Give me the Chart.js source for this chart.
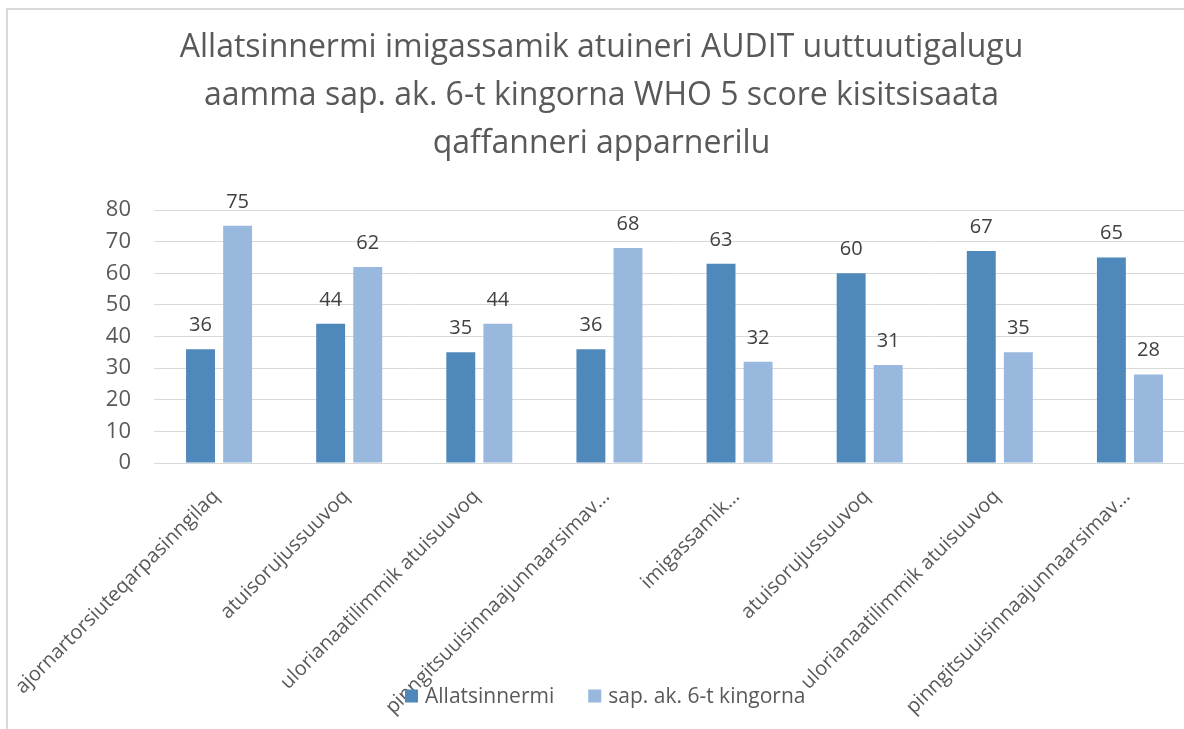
<!DOCTYPE html>
<html>
<head>
<meta charset="utf-8">
<script src="https://cdn.jsdelivr.net/npm/chart.js@4.4.1/dist/chart.umd.min.js"></script>
<style>
    html, body {
        margin: 0;
        padding: 0;
        background: #fff;
        overflow: hidden;
    }
    #frame {
        position: absolute;
        left: 6px;
        top: 8px;
        width: 1220px;
        height: 740px;
        border: 2px solid #d9d9d9;
        overflow: hidden;
    }
</style>
</head>
<body>
<div id="frame">
    <canvas id="auditChart" width="1210" height="719"></canvas>
</div>
<script>
const categories = [
    'ajornartorsiuteqarpasinngilaq',
    'atuisorujussuuvoq',
    'ulorianaatilimmik atuisuuvoq',
    'pinngitsuuisinnaajunnaarsimav…',
    'imigassamik…',
    'atuisorujussuuvoq',
    'ulorianaatilimmik atuisuuvoq',
    'pinngitsuuisinnaajunnaarsimav…'
];
const seriesNames = ['Allatsinnermi', 'sap. ak. 6-t kingorna'];
const beforeValues = [36, 44, 35, 36, 63, 60, 67, 65];
const afterValues = [75, 62, 44, 68, 32, 31, 35, 28];
const titleLines = [
    'Allatsinnermi imigassamik atuineri AUDIT uuttuutigalugu',
    'aamma sap. ak. 6-t kingorna WHO 5 score kisitsisaata',
    'qaffanneri apparnerilu'
];

const FONT = "'Open Sans', 'Noto Sans', sans-serif";
const TEXT_GREY = '#595959';

// value labels sitting above each bar
const barValueLabels = {
    id: 'barValueLabels',
    afterDatasetsDraw(chart) {
        const ctx = chart.ctx;
        ctx.save();
        ctx.font = '20px ' + FONT;
        ctx.fillStyle = '#404040';
        ctx.textAlign = 'center';
        ctx.textBaseline = 'alphabetic';
        chart.data.datasets.forEach((ds, i) => {
            chart.getDatasetMeta(i).data.forEach((bar, j) => {
                ctx.fillText(String(ds.data[j]), bar.x, bar.y - 18);
            });
        });
        ctx.restore();
    }
};

// legend drawn over the bottom of the category labels
const bottomLegend = {
    id: 'bottomLegend',
    afterDraw(chart, args, opts) {
        const ctx = chart.ctx;
        ctx.save();
        ctx.font = '21px ' + FONT;
        ctx.textBaseline = 'middle';
        const box = 13;
        const gap = 7;
        const spacing = 34;
        let x = opts.left;
        const y = opts.y;
        chart.data.datasets.forEach((ds) => {
            ctx.fillStyle = ds.backgroundColor;
            ctx.fillRect(x, y - box / 2, box, box);
            ctx.fillStyle = TEXT_GREY;
            ctx.textAlign = 'left';
            ctx.fillText(ds.label, x + box + gap, y + 1);
            x += box + gap + ctx.measureText(ds.label).width + spacing;
        });
        ctx.restore();
    }
};

const ctx = document.getElementById('auditChart').getContext('2d');
new Chart(ctx, {
    type: 'bar',
    data: {
        labels: categories,
        datasets: [{
            label: seriesNames[0],
            data: beforeValues,
            backgroundColor: '#4f88bb',
            categoryPercentage: 0.57,
            barPercentage: 0.78
        }, {
            label: seriesNames[1],
            data: afterValues,
            backgroundColor: '#98b8de',
            categoryPercentage: 0.57,
            barPercentage: 0.78
        }]
    },
    options: {
        responsive: false,
        devicePixelRatio: 1,
        animation: false,
        layout: { padding: { left: 0, right: 23, top: 0, bottom: 0 } },
        plugins: {
            legend: { display: false },
            tooltip: { enabled: false },
            title: {
                display: true,
                text: titleLines,
                color: TEXT_GREY,
                font: { family: FONT, size: 32, weight: 'normal', lineHeight: '48px' },
                padding: { top: 14, bottom: 42 }
            },
            bottomLegend: { left: 397, y: 686 }
        },
        scales: {
            x: {
                grid: { display: false },
                border: { display: true, color: '#d9d9d9', width: 1 },
                ticks: {
                    color: TEXT_GREY,
                    font: { family: FONT, size: 20 },
                    autoSkip: false,
                    maxRotation: 45,
                    minRotation: 45,
                    padding: 14,
                    labelOffset: -3
                },
                afterFit(scale) {
                    // long slanted labels may run past the left edge of the plot
                    scale.height = 266;
                    scale.paddingLeft = 0;
                    scale.paddingRight = 0;
                }
            },
            y: {
                min: 0,
                max: 80,
                border: { display: false },
                grid: { color: '#d9d9d9', lineWidth: 1, drawTicks: false },
                ticks: {
                    stepSize: 10,
                    color: TEXT_GREY,
                    font: { family: FONT, size: 22 },
                    padding: 23
                },
                afterFit(scale) {
                    scale.width = 146;
                }
            }
        }
    },
    plugins: [barValueLabels, bottomLegend]
});
</script>
</body>
</html>
